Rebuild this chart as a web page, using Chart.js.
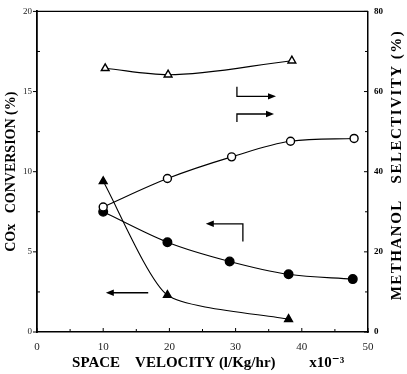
<!DOCTYPE html>
<html><head><meta charset="utf-8">
<script src="https://cdn.jsdelivr.net/npm/chart.js@4"></script>
<style>html,body{margin:0;padding:0;background:#fff}</style>
</head><body>
<canvas id="c" width="407" height="374"></canvas>
<script>
// Space velocity (x10^-3 l/Kg/hr) and values
const openTriX  = [10.3, 19.8, 38.5];          // methanol selectivity (right axis)
const openTriY  = [65.8, 64.2, 67.7];
const openCircX = [10, 19.7, 29.4, 38.3, 47.9]; // methanol selectivity (right axis)
const openCircY = [31.2, 38.3, 43.7, 47.6, 48.3];
const fillCircX = [10, 19.7, 29.1, 38, 47.7];   // COx conversion (left axis)
const fillCircY = [7.5, 5.6, 4.4, 3.6, 3.3];
const fillTriX  = [10, 19.7, 38];               // COx conversion (left axis)
const fillTriY  = [9.4, 2.3, 0.8];

const xTickValues = [0, 10, 20, 30, 40, 50];
const leftTickValues = [0, 5, 10, 15, 20];
const rightTickValues = [0, 20, 40, 60, 80];

const xTitle = '   SPACE    VELOCITY (l/Kg/hr)         x10\u207B\u00B3';
const leftTitle = 'COx   CONVERSION (%)';
const rightTitle = 'METHANOL   SELECTIVITY (%)';

// annotation arrows (data coordinates on x / left axis)
const arrowsRight = [
  {path: [[30.2, 15.3], [30.2, 14.7], [35.5, 14.7]]},
  {path: [[30.2, 13.1], [30.2, 13.6], [35.2, 13.6]]}
];
const arrowsLeft = [
  {path: [[31.1, 5.64], [31.1, 6.75], [26.1, 6.75]]},
  {path: [[16.8, 2.45], [11.0, 2.45]]}
];

const pts = (xs, ys) => xs.map((x, i) => ({x, y: ys[i]}));
const SERIF = '"Liberation Serif", "DejaVu Serif", serif';

const extras = {
  id: 'extras',
  afterDraw(chart) {
    const ctx = chart.ctx;
    const a = chart.chartArea;
    const sx = chart.scales.x, sy = chart.scales.y, sy2 = chart.scales.y2;
    ctx.save();
    ctx.strokeStyle = '#000';
    ctx.fillStyle = '#000';
    ctx.lineWidth = 1.2;
    ctx.beginPath(); ctx.moveTo(a.left, a.top); ctx.lineTo(a.right, a.top); ctx.stroke();
    ctx.lineWidth = 1;
    for (let v = 0; v <= 50; v += 5) {
      const px = sx.getPixelForValue(v);
      const len = v % 10 === 0 ? 4 : 3;
      ctx.beginPath(); ctx.moveTo(px, a.bottom); ctx.lineTo(px, a.bottom - len); ctx.stroke();
    }
    for (let v = 0; v <= 20; v += 2.5) {
      const py = sy.getPixelForValue(v);
      ctx.beginPath();
      if (v % 5 === 0) { ctx.moveTo(a.left - 4, py); ctx.lineTo(a.left, py); }
      else { ctx.moveTo(a.left, py); ctx.lineTo(a.left + 3, py); }
      ctx.stroke();
    }
    for (let v = 0; v <= 80; v += 10) {
      const py = sy2.getPixelForValue(v);
      const len = v % 20 === 0 ? 4 : 3;
      ctx.beginPath(); ctx.moveTo(a.right, py); ctx.lineTo(a.right - len, py); ctx.stroke();
    }
    const drawArrow = (path) => {
      const p = path.map(([x, y]) => [sx.getPixelForValue(x), sy.getPixelForValue(y)]);
      ctx.lineWidth = 1.3;
      ctx.beginPath();
      ctx.moveTo(p[0][0], p[0][1]);
      for (let i = 1; i < p.length; i++) ctx.lineTo(p[i][0], p[i][1]);
      ctx.stroke();
      const [x1, y1] = p[p.length - 2], [x2, y2] = p[p.length - 1];
      const ang = Math.atan2(y2 - y1, x2 - x1);
      ctx.beginPath();
      ctx.moveTo(x2 + 4 * Math.cos(ang), y2 + 4 * Math.sin(ang));
      ctx.lineTo(x2 - 4 * Math.cos(ang) - 3.2 * Math.sin(ang), y2 - 4 * Math.sin(ang) + 3.2 * Math.cos(ang));
      ctx.lineTo(x2 - 4 * Math.cos(ang) + 3.2 * Math.sin(ang), y2 - 4 * Math.sin(ang) - 3.2 * Math.cos(ang));
      ctx.closePath(); ctx.fill();
    };
    arrowsRight.forEach(ar => drawArrow(ar.path));
    arrowsLeft.forEach(ar => drawArrow(ar.path));
    ctx.font = 'bold 15px ' + SERIF;
    try { ctx.letterSpacing = '1.5px'; } catch (e) {}
    ctx.textAlign = 'center';
    ctx.textBaseline = 'middle';
    ctx.translate(397, 165);
    ctx.rotate(-Math.PI / 2);
    ctx.fillText(rightTitle, 0, 0);
    ctx.restore();
  }
};

new Chart(document.getElementById('c'), {
  type: 'line',
  data: {
    datasets: [
      {data: pts(openTriX, openTriY), yAxisID: 'y2', pointStyle: 'triangle', pointRadius: 4.5,
       pointBackgroundColor: '#fff', cubicInterpolationMode: 'monotone'},
      {data: pts(openCircX, openCircY), yAxisID: 'y2', pointStyle: 'circle', pointRadius: 4,
       pointBackgroundColor: '#fff', cubicInterpolationMode: 'monotone'},
      {data: pts(fillCircX, fillCircY), yAxisID: 'y', pointStyle: 'circle', pointRadius: 4.3,
       pointBackgroundColor: '#000', cubicInterpolationMode: 'monotone'},
      {data: pts(fillTriX, fillTriY), yAxisID: 'y', pointStyle: 'triangle', pointRadius: 4.5,
       pointBackgroundColor: '#000', tension: 0.2}
    ].map(d => Object.assign({
      borderColor: '#000', borderWidth: 1.1, pointBorderColor: '#000', pointBorderWidth: 1.4,
      fill: false
    }, d))
  },
  options: {
    responsive: false,
    devicePixelRatio: 1,
    animation: false,
    layout: {padding: {top: 6, right: 0, left: 0, bottom: 0}},
    plugins: {legend: {display: false}, tooltip: {enabled: false}},
    scales: {
      x: {
        type: 'linear', min: 0, max: 50,
        afterBuildTicks: s => { s.ticks = xTickValues.map(v => ({value: v})); },
        ticks: {font: {size: 11, family: SERIF}, color: '#222', padding: 9},
        grid: {display: false, drawTicks: false},
        border: {display: true, color: '#000', width: 1.5},
        title: {display: true, text: xTitle, color: '#000',
                font: {size: 15, weight: 'bold', family: SERIF}, padding: {top: 0, bottom: 2}},
        afterFit: s => { s.height = 42; }
      },
      y: {
        position: 'left', min: 0, max: 20,
        afterBuildTicks: s => { s.ticks = leftTickValues.map(v => ({value: v})); },
        ticks: {font: {size: 9, family: SERIF}, color: '#222', padding: 5},
        grid: {display: false, drawTicks: false},
        border: {display: true, color: '#000', width: 1.8},
        title: {display: true, text: leftTitle, color: '#000',
                font: {size: 14, weight: 'bold', family: SERIF}, padding: {top: 3, bottom: 0}},
        afterFit: s => { s.width = 37; }
      },
      y2: {
        position: 'right', min: 0, max: 80,
        afterBuildTicks: s => { s.ticks = rightTickValues.map(v => ({value: v})); },
        ticks: {font: {size: 9, weight: 'bold', family: SERIF}, color: '#000', padding: 6},
        grid: {display: false, drawTicks: false, drawOnChartArea: false},
        border: {display: true, color: '#000', width: 1.5},
        afterFit: s => { s.width = 39; }
      }
    }
  },
  plugins: [extras]
});
</script>
</body></html>
